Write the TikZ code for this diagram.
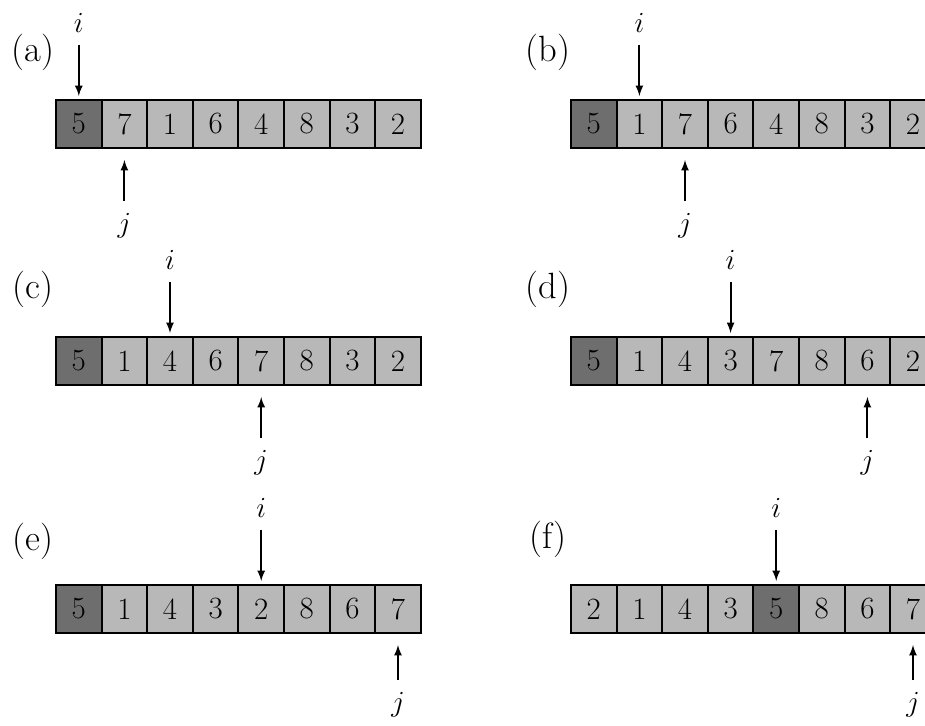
\documentclass[tikz,border=0pt]{standalone}
\usepackage{tikz}
\usetikzlibrary{chains,positioning,arrows}

\definecolor{pivgray}{gray}{0.43}
\definecolor{cellgray}{gray}{0.72}

\begin{document}
\begin{tikzpicture}[
cell/.style={
  draw,
  fill=cellgray,
  line width=1.3pt,
  minimum width=1.14cm,
  minimum height=1.2cm,
  inner sep=0pt,
  outer sep=0pt,
  font=\fontsize{22}{26}\selectfont
},
n5/.style={fill=pivgray},
tag/.style={font=\fontsize{26}{30}\selectfont},
idx/.style={inner sep=2pt,font=\fontsize{22}{26}\selectfont},
ptr/.style={-latex,line width=1.5pt,shorten <=0.22cm,shorten >=0.1cm},
node distance=0pt
]
\useasboundingbox (0,0) rectangle (23.125,-18.125);
\clip (0,0) rectangle (23.125,-18.125);

% (a)
\begin{scope}[start chain=1 going right]
\node[on chain=1,cell,n5] at (1.97,-3.1) (a1) {5};
\foreach \v [count=\k from 2] in {7,1,6,4,8,3,2}
  \node[on chain=1,cell,n\v/.try] (a\k) {\v};
\end{scope}
\node[tag] at ([shift={(-0.57,1.2)}]a1.north west) {(a)};
\node[idx,above=1.6cm of a1] (ai) {$i$};
\node[idx,below=1.55cm of a2] (aj) {$j$};
\draw[ptr] (ai) -- (a1);
\draw[ptr,shorten >=0.3cm] (aj) -- (a2);

% (b)
\begin{scope}[start chain=2 going right]
\node[on chain=2,cell,n5] at (14.845,-3.1) (b1) {5};
\foreach \v [count=\k from 2] in {1,7,6,4,8,3,2}
  \node[on chain=2,cell,n\v/.try] (b\k) {\v};
\end{scope}
\node[tag] at ([shift={(-0.57,1.2)}]b1.north west) {(b)};
\node[idx,above=1.6cm of b2] (bi) {$i$};
\node[idx,below=1.55cm of b3] (bj) {$j$};
\draw[ptr] (bi) -- (b2);
\draw[ptr,shorten >=0.3cm] (bj) -- (b3);

% (c)
\begin{scope}[start chain=3 going right]
\node[on chain=3,cell,n5] at (1.97,-9.025) (c1) {5};
\foreach \v [count=\k from 2] in {1,4,6,7,8,3,2}
  \node[on chain=3,cell,n\v/.try] (c\k) {\v};
\end{scope}
\node[tag] at ([shift={(-0.57,1.2)}]c1.north west) {(c)};
\node[idx,above=1.6cm of c3] (ci) {$i$};
\node[idx,below=1.55cm of c5] (cj) {$j$};
\draw[ptr] (ci) -- (c3);
\draw[ptr,shorten >=0.3cm] (cj) -- (c5);

% (d)
\begin{scope}[start chain=4 going right]
\node[on chain=4,cell,n5] at (14.845,-9.025) (d1) {5};
\foreach \v [count=\k from 2] in {1,4,3,7,8,6,2}
  \node[on chain=4,cell,n\v/.try] (d\k) {\v};
\end{scope}
\node[tag] at ([shift={(-0.57,1.2)}]d1.north west) {(d)};
\node[idx,above=1.6cm of d4] (di) {$i$};
\node[idx,below=1.55cm of d7] (dj) {$j$};
\draw[ptr] (di) -- (d4);
\draw[ptr,shorten >=0.3cm] (dj) -- (d7);

% (e)
\begin{scope}[start chain=5 going right]
\node[on chain=5,cell,n5] at (1.97,-15.225) (e1) {5};
\foreach \v [count=\k from 2] in {1,4,3,2,8,6,7}
  \node[on chain=5,cell,n\v/.try] (e\k) {\v};
\end{scope}
\node[tag] at ([shift={(-0.57,1.1)}]e1.north west) {(e)};
\node[idx,above=1.6cm of e5] (ei) {$i$};
\node[idx,below=1.4cm of e8] (ej) {$j$};
\draw[ptr] (ei) -- (e5);
\draw[ptr,shorten >=0.3cm] (ej) -- (e8);

% (f)
\begin{scope}[start chain=6 going right]
\node[on chain=6,cell] at (14.845,-15.225) (f1) {2};
\foreach \v [count=\k from 2] in {1,4,3,5,8,6,7}
  \node[on chain=6,cell,n\v/.try] (f\k) {\v};
\end{scope}
\node[tag] at ([shift={(-0.57,1.15)}]f1.north west) {(f)};
\node[idx,above=1.6cm of f5] (fi) {$i$};
\node[idx,below=1.4cm of f8] (fj) {$j$};
\draw[ptr] (fi) -- (f5);
\draw[ptr,shorten >=0.3cm] (fj) -- (f8);

\end{tikzpicture}
\end{document}
